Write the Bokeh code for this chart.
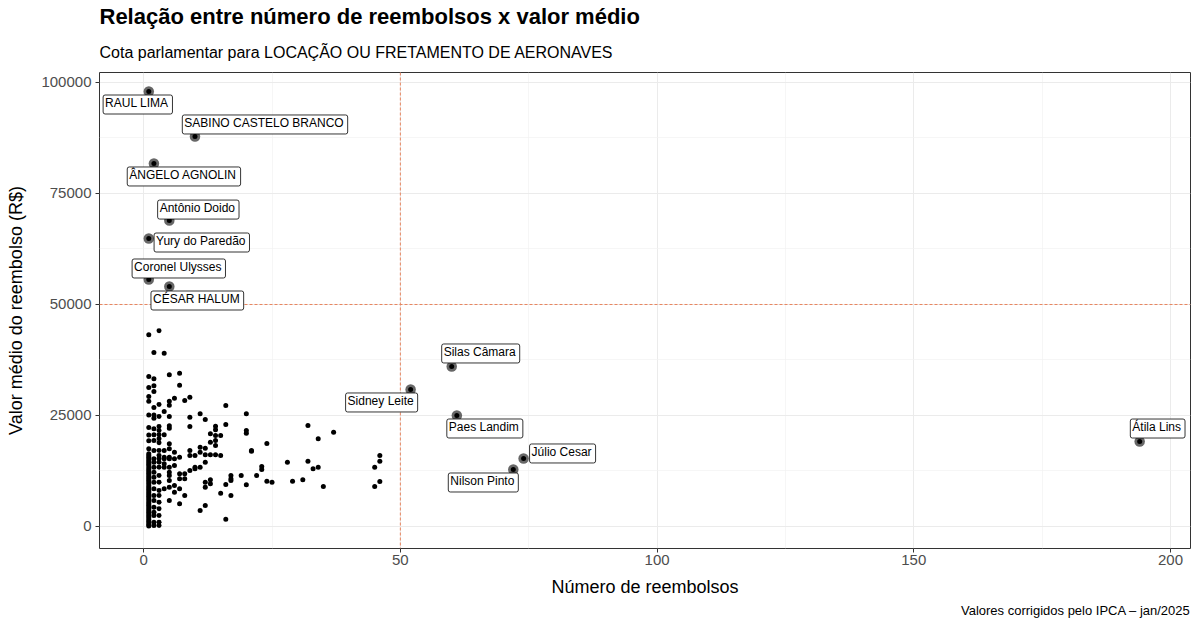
from bokeh.plotting import figure
from bokeh.models import Range1d, FixedTicker, PrintfTickFormatter, Title, Span, ColumnDataSource
from bokeh.core.properties import value
from bokeh.embed import file_html
from bokeh.resources import INLINE

title_text = "Relação entre número de reembolsos x valor médio"
subtitle_text = "Cota parlamentar para LOCAÇÃO OU FRETAMENTO DE AERONAVES"
caption_text = "Valores corrigidos pelo IPCA – jan/2025"
x_label = "Número de reembolsos"
y_label = "Valor médio do reembolso (R$)"

x_ticks = [0, 50, 100, 150, 200]
x_minor = [25, 75, 125, 175]
y_ticks = [0, 25000, 50000, 75000, 100000]
y_minor = [12500, 37500, 62500, 87500]

# regular deputies: number of reimbursements -> list of mean values
cols = {
    1: [43200, 33800, 31300, 29300, 28200, 25100, 22300, 20600, 19300, 17500, 16400, 16000, 15600,
        15200, 14800, 14400, 14000, 13600, 13200, 12800, 12400, 12000, 11600, 11200, 10800, 10400,
        10000, 9600, 9200, 8800, 8400, 8000, 7600, 7200, 6800, 6400, 6000, 5600, 5200, 4800, 4400,
        4000, 3600, 3200, 2800, 2400, 2000, 1600, 1200, 800, 400, 100],
    2: [39200, 33300, 31700, 30400, 26800, 25100, 24400, 22000, 20650, 19370, 17110, 15240, 14480,
        13360, 12240, 11110, 9990, 8500, 6980, 5850, 4350, 3230, 2480, 970, 230],
    3: [44100, 27500, 24800, 22500, 21600, 20650, 19750, 18840, 17120, 15990, 15240, 14490, 13360,
        11490, 9980, 8110, 6980, 5480, 3980, 2480, 980, 230],
    4: [39000, 25900, 20650, 17120, 15620, 15240, 14110, 13360, 8480],
    5: [34200, 28200, 27300, 24800, 22700, 22100, 18620, 17490, 15620, 15240, 13360, 12240, 11490,
        10360, 8860, 5860],
    6: [28900, 16740, 15240, 13740, 9230, 7730],
    7: [34500, 31800, 15620, 11860, 10740, 8480, 5110],
    8: [28400, 11860, 10740, 6980],
    9: [29100, 24600, 22500, 17120, 15990, 12610],
    10: [15990, 13360, 12990],
    11: [25400, 17870, 16740, 13360, 3600],
    12: [24100, 17640, 16140, 14490, 9980, 8860, 4730],
    13: [20870, 19000, 16140, 10510, 9610],
    14: [22600, 21770, 20490, 19370, 18240, 16150],
    15: [20490, 15990, 7500],
    16: [27250, 22970, 9460, 1650],
    17: [11490, 10740, 10360, 6980],
    19: [11490],
    20: [25380, 21620, 21000, 9390],
    21: [17120, 16960],
    22: [11490],
    23: [13510, 12840],
    24: [18700, 10200],
    25: [9980],
    28: [14450],
    29: [10200],
    31: [10510],
    32: [22740, 14710],
    33: [13000],
    34: [19740, 13360],
    35: [9010],
    37: [21240],
    45: [13360, 9010],
    46: [15990, 14710, 10130],
}

hl_names = ["RAUL LIMA", "SABINO CASTELO BRANCO", "ÂNGELO AGNOLIN", "Antônio Doido",
            "Yury do Paredão", "Coronel Ulysses", "CÉSAR HALUM", "Silas Câmara",
            "Sidney Leite", "Paes Landim", "Júlio Cesar", "Nilson Pinto", "Átila Lins"]
hl_n = [1, 10, 2, 5, 1, 1, 5, 60, 52, 61, 74, 72, 194]
hl_val = [97970, 87840, 81760, 68900, 64860, 55630, 54050, 36040, 30860, 25000, 15320, 12840, 19140]

# label placement offsets in screen pixels (dx right, dy down)
label_dx = [-11, 70, 30, 29, 53, 30, 28, 29, -29, 28, 39, -30, 18]
label_dy = [13, -12, 13, -11, 4, -11, 14, -13, 13, 13, -5, 13, -13]

xs, ys = [], []
for k, vals in cols.items():
    for v in vals:
        xs.append(k)
        ys.append(v)

FONT = "Liberation Sans"

p = figure(width=1200, height=630, output_backend="svg", toolbar_location=None,
           x_range=Range1d(-8.6, 203.9), y_range=Range1d(-4955, 102250),
           min_border_left=99, min_border_right=10, min_border_top=72, min_border_bottom=82,
           background_fill_color="white", border_fill_color="white")

p.title.text = title_text
p.title.text_font = FONT
p.title.text_font_size = "22px"
p.title.text_font_style = "bold"
p.title.text_color = "black"
p.title.align = "left"
p.title.standoff = 3
sub = Title(text=subtitle_text, text_font=FONT, text_font_size="16px", text_font_style="normal",
            text_color="black", align="left", standoff=23)
p.add_layout(sub, "above")

xt = FixedTicker(ticks=x_ticks, minor_ticks=x_minor)
yt = FixedTicker(ticks=y_ticks, minor_ticks=y_minor)
p.xaxis.ticker = xt
p.yaxis.ticker = yt
p.xgrid.ticker = xt
p.ygrid.ticker = yt
p.yaxis.formatter = PrintfTickFormatter(format="%d")

for ax in (p.xaxis, p.yaxis):
    ax.axis_line_color = None
    ax.major_tick_line_color = "#333333"
    ax.major_tick_out = 4
    ax.major_tick_in = 0
    ax.minor_tick_line_color = None
    ax.major_label_text_font = FONT
    ax.major_label_text_font_size = "15px"
    ax.major_label_text_color = "#4D4D4D"
    ax.axis_label_text_font = FONT
    ax.axis_label_text_font_size = "18px"
    ax.axis_label_text_font_style = "normal"
    ax.axis_label_text_color = "black"
p.xaxis.axis_label = x_label
p.yaxis.axis_label = y_label
p.xaxis.major_label_standoff = 2
p.xaxis.axis_label_standoff = 9
p.yaxis.major_label_standoff = 4
p.yaxis.axis_label_standoff = 12

for g in (p.xgrid, p.ygrid):
    g.grid_line_color = "#EBEBEB"
    g.grid_line_width = 1
    g.minor_grid_line_color = "#F2F2F2"
    g.minor_grid_line_width = 0.7

p.outline_line_color = "#333333"
p.outline_line_width = 1

p.add_layout(Span(location=50, dimension="height", line_color="#E8855F", line_dash="3 2",
                  line_width=1, level="underlay"))
p.add_layout(Span(location=50000, dimension="width", line_color="#E8855F", line_dash="3 2",
                  line_width=1, level="underlay"))

p.scatter(xs, ys, size=5, fill_color="black", line_color=None)

src = ColumnDataSource(dict(x=hl_n, y=hl_val, name=hl_names, dx=label_dx, dy=label_dy))
p.scatter("x", "y", source=src, size=10.5, fill_color="#5F5F5F", line_color=None, fill_alpha=0.95)
p.scatter("x", "y", source=src, size=5, fill_color="black", line_color=None)
p.text("x", "y", text="name", source=src, x_offset="dx", y_offset="dy",
       text_font=value(FONT), text_font_size="12px", text_color="black",
       text_align="center", text_baseline="middle",
       background_fill_color="white", border_line_color="black", border_line_width=0.8,
       padding=[2, 4, 1, 4], border_radius=2)

cap = Title(text=caption_text, text_font=FONT, text_font_size="13px", text_font_style="normal",
            text_color="black", align="right", standoff=3)
p.add_layout(cap, "below")

open("out.html", "w").write(file_html(p, INLINE))
